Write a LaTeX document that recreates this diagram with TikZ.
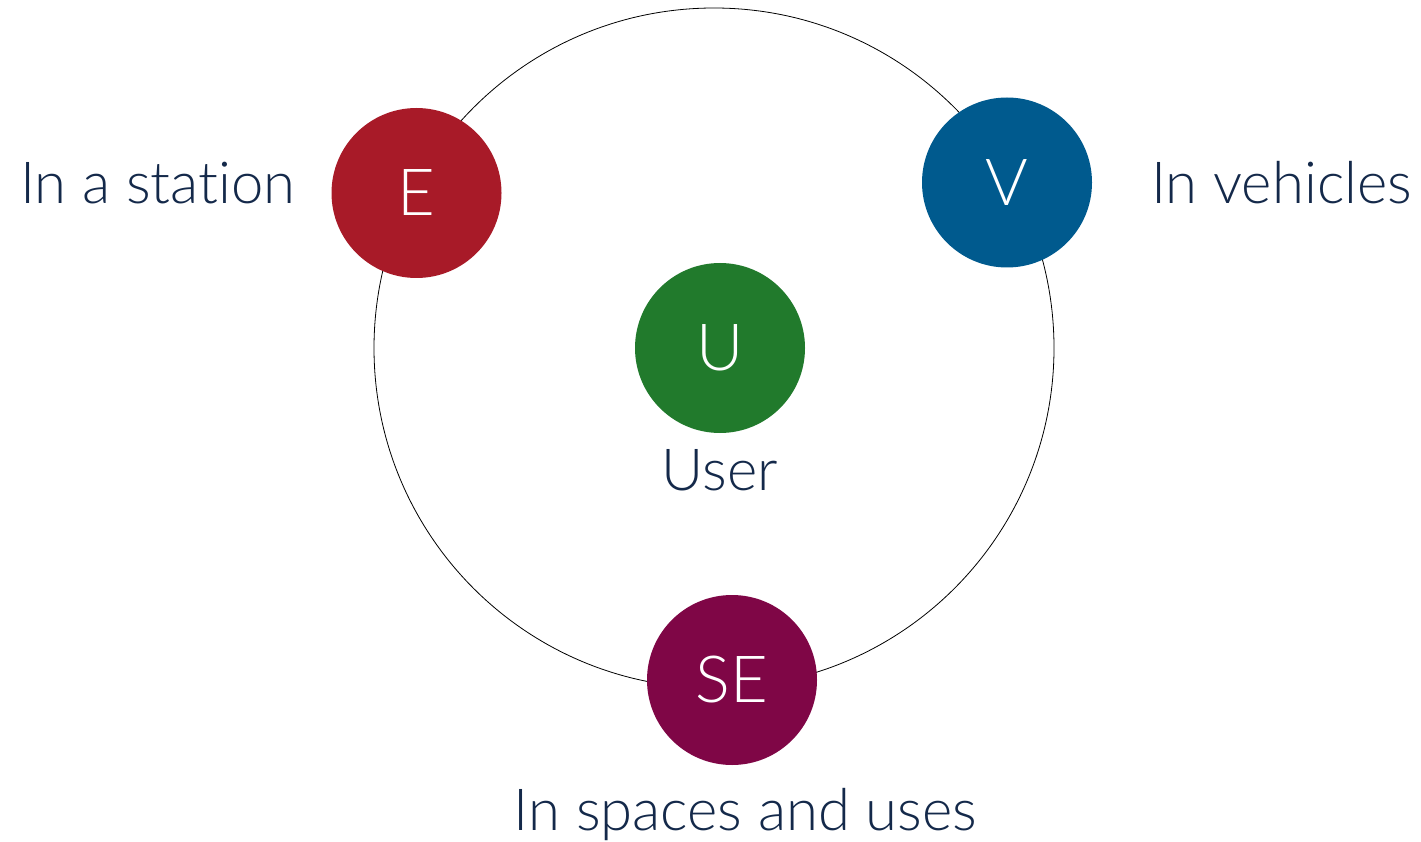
\documentclass[tikz,border=0pt]{standalone}
\usepackage{fontspec}
\setmainfont{Lato}[UprightFont={* Light},Ligatures={NoCommon,NoRare}]
\definecolor{cE}{HTML}{A81A28}
\definecolor{cV}{HTML}{005A8E}
\definecolor{cU}{HTML}{217A2C}
\definecolor{cSE}{HTML}{7F0646}
\definecolor{txt}{HTML}{14294A}
\begin{document}
\begin{tikzpicture}[x=1pt,y=-1pt,
  dot/.style={circle,minimum size=170pt,inner sep=0pt,text=white,font=\fontsize{65}{72}\selectfont},
  lbl/.style={inner sep=0pt,text=txt,font=\fontsize{58}{64}\selectfont}]
\useasboundingbox (0,0) rectangle (1421,842);
\coordinate (c) at (714,348);
\draw[line width=0.8pt] (c) circle[radius=340pt];
\node[dot,fill=cE] (E) at (416.5,193) {E};
\node[dot,fill=cV] (V) at (1007,182.5) {V};
\node[dot,fill=cU] (U) at (720,348) {U};
\node[dot,fill=cSE] (SE) at (732,680) {SE};
\node[lbl,anchor=base west] (lE) at (20,204) {In a station};
\node[lbl,anchor=base west] (lV) at (1151,204) {In vehicles};
\node[lbl,anchor=base] (lU) at (720,490) {User};
\node[lbl,anchor=base] (lSE) at (745.5,830) {In spaces and uses};
\end{tikzpicture}
\end{document}
